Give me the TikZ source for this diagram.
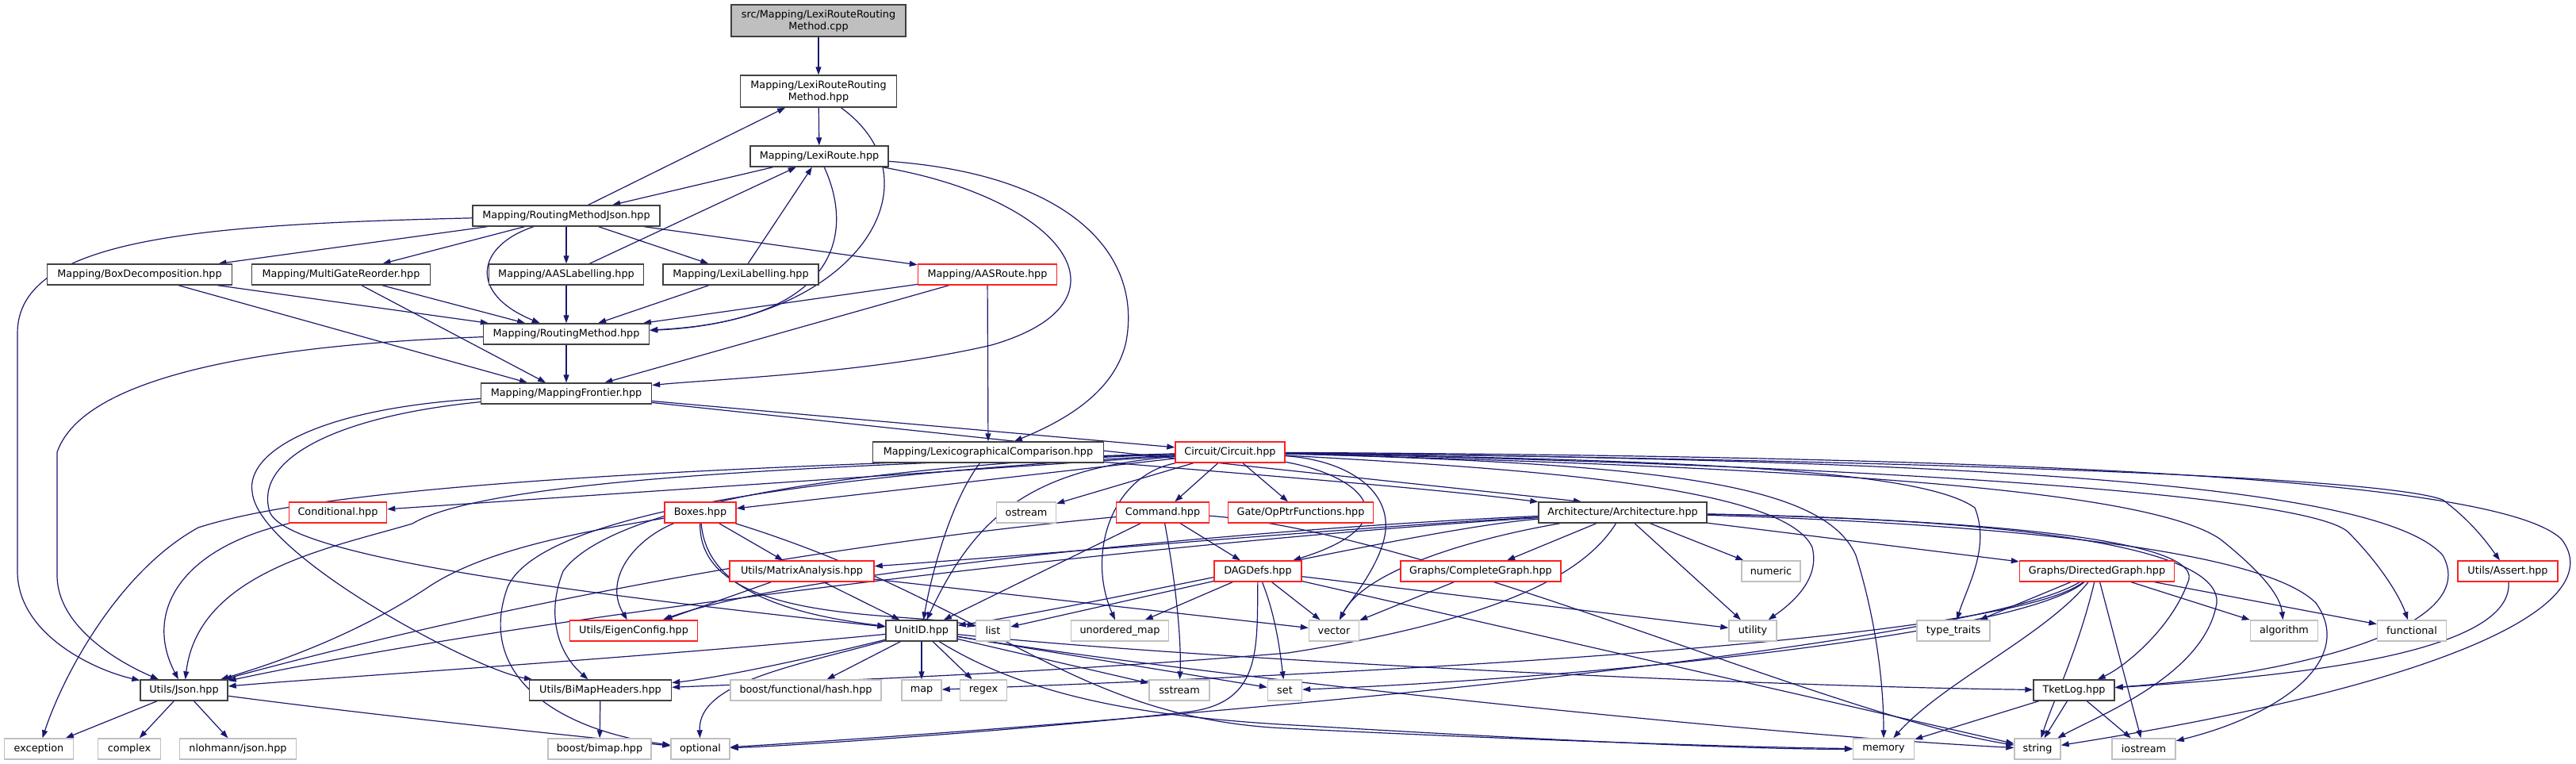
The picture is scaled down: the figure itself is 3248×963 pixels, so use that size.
\documentclass[tikz,border=0pt]{standalone}
\usepackage{fontspec}
\setmainfont{DejaVu Sans}
\usetikzlibrary{arrows.meta}
\definecolor{eb}{HTML}{191970}
\definecolor{nb}{HTML}{404040}
\definecolor{nr}{HTML}{FF2020}
\definecolor{ng}{HTML}{C0C0C0}
\definecolor{rootfill}{HTML}{BFBFBF}
\pgfdeclarelayer{bg}
\pgfsetlayers{bg,main}
\tikzset{
  nd/.style={draw=nb, fill=white, line width=1.4pt, inner sep=0pt, minimum height=26pt,
    font=\fontsize{12.8pt}{15pt}\selectfont, align=center},
  rd/.style={nd, draw=nr},
  gr/.style={nd, draw=ng},
  e/.style={draw=eb, line width=1.2pt, -{Triangle[length=10pt,width=7pt]}},
}
\begin{document}
\begin{tikzpicture}[x=1pt,y=-1pt]
\useasboundingbox (0,0) rectangle (3248,963);
% ---------- nodes ----------
\node[nd, fill=rootfill, minimum width=220pt, minimum height=40pt] (cpp) at (1032,26) {src/Mapping/LexiRouteRouting\\Method.cpp};
\node[nd, minimum width=197pt, minimum height=40pt] (lrrm) at (1032,115) {Mapping/LexiRouteRouting\\Method.hpp};
\node[nd, minimum width=174pt] (lexi) at (1033,197) {Mapping/LexiRoute.hpp};
\node[nd, minimum width=236pt] (rmj) at (714,272) {Mapping/RoutingMethodJson.hpp};
\node[nd, minimum width=233pt] (boxd) at (176,346) {Mapping/BoxDecomposition.hpp};
\node[nd, minimum width=225pt] (mgr) at (430,346) {Mapping/MultiGateReorder.hpp};
\node[nd, minimum width=195pt] (aasl) at (714,346) {Mapping/AASLabelling.hpp};
\node[nd, minimum width=196pt] (lexl) at (934,346) {Mapping/LexiLabelling.hpp};
\node[rd, minimum width=175pt] (aasr) at (1245,346) {Mapping/AASRoute.hpp};
\node[nd, minimum width=209pt] (rm) at (714,421) {Mapping/RoutingMethod.hpp};
\node[nd, minimum width=215pt] (mf) at (714,496) {Mapping/MappingFrontier.hpp};
\node[nd, minimum width=291pt] (lc) at (1246,570) {Mapping/LexicographicalComparison.hpp};
\node[rd, minimum width=138pt] (circ) at (1551,570) {Circuit/Circuit.hpp};
\node[rd, minimum width=123pt] (cond) at (426,646) {Conditional.hpp};
\node[rd, minimum width=90pt] (boxes) at (883,646) {Boxes.hpp};
\node[gr, minimum width=75pt] (ostream) at (1294,646) {ostream};
\node[rd, minimum width=117pt] (cmd) at (1466,646) {Command.hpp};
\node[rd, minimum width=183pt] (gate) at (1640,646) {Gate/OpPtrFunctions.hpp};
\node[nd, minimum width=212pt] (arch) at (2046,646) {Architecture/Architecture.hpp};
\node[rd, minimum width=182pt] (ma) at (1011,720) {Utils/MatrixAnalysis.hpp};
\node[rd, minimum width=110pt] (dag) at (1586,720) {DAGDefs.hpp};
\node[rd, minimum width=202pt] (cg) at (1867,720) {Graphs/CompleteGraph.hpp};
\node[gr, minimum width=74pt] (numeric) at (2233,720) {numeric};
\node[rd, minimum width=195pt] (dg) at (2644,720) {Graphs/DirectedGraph.hpp};
\node[rd, minimum width=126pt] (assert) at (3162,720) {Utils/Assert.hpp};
\node[rd, minimum width=161pt] (eigen) at (799,795) {Utils/EigenConfig.hpp};
\node[nd, minimum width=90pt] (unitid) at (1162,795) {UnitID.hpp};
\node[gr, minimum width=43pt] (list) at (1252,795) {list};
\node[gr, minimum width=123pt] (umap) at (1412,795) {unordered\_map};
\node[gr, minimum width=63pt] (vector) at (1682,795) {vector};
\node[gr, minimum width=60pt] (utility) at (2210,795) {utility};
\node[gr, minimum width=92pt] (tt) at (2463,795) {type\_traits};
\node[gr, minimum width=85pt] (algorithm) at (2880,795) {algorithm};
\node[gr, minimum width=87pt] (functional) at (3041,795) {functional};
\node[nd, minimum width=110pt] (json) at (232,870) {Utils/Json.hpp};
\node[nd, minimum width=179pt] (bimaph) at (757,870) {Utils/BiMapHeaders.hpp};
\node[gr, minimum width=190pt] (bfh) at (1016,870) {boost/functional/hash.hpp};
\node[gr, minimum width=50pt] (map) at (1162,870) {map};
\node[gr, minimum width=59pt] (regex) at (1240,870) {regex};
\node[gr, minimum width=76pt] (sstream) at (1487,870) {sstream};
\node[gr, minimum width=43pt] (set) at (1620,870) {set};
\node[nd, minimum width=102pt] (tketlog) at (2615,870) {TketLog.hpp};
\node[gr, minimum width=87pt] (exception) at (49,944) {exception};
\node[gr, minimum width=79pt] (complex) at (163,944) {complex};
\node[gr, minimum width=147pt] (nlohmann) at (300,944) {nlohmann/json.hpp};
\node[gr, minimum width=130pt] (bimap) at (756,944) {boost/bimap.hpp};
\node[gr, minimum width=74pt] (optional) at (883,944) {optional};
\node[gr, minimum width=77pt] (memory) at (2375,944) {memory};
\node[gr, minimum width=58pt] (string) at (2569,944) {string};
\node[gr, minimum width=80pt] (iostream) at (2703,944) {iostream};
% ---------- edges ----------
\begin{pgfonlayer}{bg}
\draw[e] (cpp) -- (lrrm);
\draw[e] (lrrm) -- (lexi);
\draw[e] (lrrm) .. controls (1190,230) and (1080,405) .. (rm);
\draw[e] (rmj) -- (lrrm);
\draw[e] (lexi) -- (rmj);
\draw[e] (lexi) .. controls (1080,300) and (1050,405) .. (rm);
\draw[e] (lexi) .. controls (1350,220) and (1440,320) .. (1420,430) .. controls (1405,500) and (1330,535) .. (lc);
\draw[e] (lexi) .. controls (1340,250) and (1440,380) .. (1250,435) .. controls (1100,470) and (900,478) .. (mf);
\draw[e] (rmj) -- (boxd);
\draw[e] (rmj) -- (mgr);
\draw[e] (rmj) .. controls (600,310) and (590,370) .. (rm);
\draw[e] (rmj) -- (aasl);
\draw[e] (rmj) -- (lexl);
\draw[e] (rmj) -- (aasr);
\draw[e] (rmj) .. controls (250,283) and (22,300) .. (22,420) -- (22,720) .. controls (22,800) and (120,845) .. (json);
\draw[e] (boxd) -- (rm);
\draw[e] (boxd) -- (mf);
\draw[e] (mgr) -- (rm);
\draw[e] (mgr) -- (mf);
\draw[e] (aasl) -- (rm);
\draw[e] (aasl) -- (lexi);
\draw[e] (lexl) -- (rm);
\draw[e] (lexl) -- (lexi);
\draw[e] (aasr) -- (rm);
\draw[e] (aasr) -- (mf);
\draw[e] (aasr) -- (lc);
\draw[e] (rm) -- (mf);
\draw[e] (rm) .. controls (400,432) and (110,460) .. (72,570) -- (72,725) .. controls (72,790) and (150,835) .. (json);
\draw[e] (mf) -- (circ);
\draw[e] (mf) -- ([xshift=-52pt]arch.north);
\draw[e] (mf) .. controls (400,515) and (310,570) .. (318,620) .. controls (325,700) and (600,845) .. (bimaph);
\draw[e] (mf) .. controls (420,525) and (320,580) .. (340,645) .. controls (360,700) and (700,745) .. (unitid);
\draw[e] (lc) .. controls (1200,630) and (1175,720) .. (unitid);
\draw[e] (lc) .. controls (1600,600) and (1800,615) .. (arch);
% circuit
\draw[e] (circ) -- (cond);
\draw[e] (circ) -- (boxes);
\draw[e] (circ) -- (ostream);
\draw[e] (circ) -- (cmd);
\draw[e] (circ) -- (gate);
\draw[e] (circ) .. controls (1720,600) and (1780,660) .. (dag);
\draw[e] (circ) .. controls (1400,600) and (1370,700) .. (umap);
\draw[e] (circ) .. controls (1300,590) and (1230,650) .. (unitid);
\draw[e] (circ) .. controls (1100,585) and (620,600) .. (520,660) .. controls (420,690) and (250,720) .. (json);
\draw[e] (circ) .. controls (900,588) and (420,610) .. (250,665) .. controls (150,720) and (80,850) .. (exception);
\draw[e] (circ) .. controls (1000,590) and (760,650) .. (710,720) .. controls (690,770) and (700,820) .. (bimaph);
\draw[e] (circ) .. controls (1000,600) and (680,650) .. (640,740) .. controls (600,850) and (700,920) .. (optional);
\draw[e] (circ) .. controls (1700,580) and (1760,620) .. (1745,680) .. controls (1735,720) and (1700,760) .. (vector);
\draw[e] (circ) .. controls (1900,590) and (2250,610) .. (2285,690) .. controls (2295,730) and (2260,760) .. (utility);
\draw[e] (circ) .. controls (2100,585) and (2300,610) .. (2340,700) .. controls (2365,780) and (2375,860) .. (memory);
\draw[e] (circ) .. controls (2100,580) and (2420,590) .. (2490,640) .. controls (2510,690) and (2480,740) .. (tt);
\draw[e] (circ) .. controls (2200,588) and (2700,610) .. (2800,680) .. controls (2850,720) and (2875,750) .. (algorithm);
\draw[e] (circ) .. controls (2300,585) and (2900,620) .. (2960,670) .. controls (3000,710) and (3025,750) .. (functional);
\draw[e] (circ) .. controls (2400,580) and (3000,600) .. (3080,630) .. controls (3120,660) and (3140,690) .. (assert);
\draw[e] (circ) .. controls (2500,575) and (3150,600) .. (3230,680) .. controls (3290,760) and (3100,860) .. (string);
\draw[e] (circ) .. controls (2500,580) and (3000,610) .. (3080,700) .. controls (3130,790) and (2900,850) .. (tketlog);
% boxes
\draw[e] (boxes) -- (ma);
\draw[e] (boxes) .. controls (800,680) and (760,730) .. (eigen);
\draw[e] (boxes) .. controls (700,675) and (600,700) .. (540,740) .. controls (450,800) and (350,835) .. (json);
\draw[e] (boxes) .. controls (890,730) and (960,770) .. (unitid);
\draw[e] (boxes) .. controls (880,790) and (1150,770) .. (list);
\draw[e] (boxes) .. controls (1250,760) and (1350,905) .. (1620,918) .. controls (1900,932) and (2200,942) .. (memory);
% conditional
\draw[e] (cond) .. controls (230,690) and (180,770) .. (json);
% command
\draw[e] (cmd) .. controls (1000,690) and (600,770) .. (json);
\draw[e] (cmd) -- (unitid);
\draw[e] (cmd) -- (dag);
\draw[e] (cmd) .. controls (1480,720) and (1490,800) .. (sstream);
\draw[e] (cmd) .. controls (1800,670) and (2300,900) .. (string);
% matrix analysis
\draw[e] (ma) -- (eigen);
\draw[e] (ma) -- (unitid);
\draw[e] (ma) -- (vector);
% dagdefs
\draw[e] (dag) -- (list);
\draw[e] (dag) -- (umap);
\draw[e] (dag) -- (vector);
\draw[e] (dag) .. controls (1610,780) and (1615,830) .. (set);
\draw[e] (dag) .. controls (1585,820) and (1590,885) .. (1500,897) .. controls (1300,920) and (1000,940) .. (optional);
\draw[e] (dag) -- (utility);
\draw[e] (dag) -- (string);
% complete graph
\draw[e] (cg) -- (vector);
% architecture
\draw[e] (arch) -- (cg);
\draw[e] (arch) .. controls (1850,680) and (1720,720) .. (vector);
\draw[e] (arch) -- (numeric);
\draw[e] (arch) -- (utility);
\draw[e] (arch) -- (dg);
\draw[e] (arch) .. controls (1800,665) and (1400,760) .. (unitid);
\draw[e] (arch) .. controls (1700,665) and (1300,700) .. (ma);
\draw[e] (arch) .. controls (1600,665) and (1000,720) .. (eigen);
\draw[e] (arch) .. controls (1500,680) and (700,770) .. (json);
\draw[e] (arch) .. controls (2000,720) and (1900,780) .. (1624,823) .. controls (1300,850) and (1000,860) .. (bimaph);
\draw[e] (arch) .. controls (2500,655) and (2770,680) .. (2760,730) .. controls (2740,790) and (2680,840) .. (tketlog);
\draw[e] (arch) .. controls (2550,655) and (2800,690) .. (2795,760) .. controls (2780,850) and (2650,900) .. (string);
\draw[e] (arch) .. controls (2500,660) and (2850,690) .. (2920,760) .. controls (2970,830) and (2880,900) .. (iostream);
% directed graph
\draw[e] (dg) -- (tt);
\draw[e] (dg) -- (algorithm);
\draw[e] (dg) -- (functional);
\draw[e] (dg) -- (iostream);
\draw[e] (dg) .. controls (2580,800) and (2450,860) .. (memory);
\draw[e] (dg) .. controls (2620,820) and (2590,880) .. (string);
\draw[e] (dg) .. controls (2500,810) and (1600,900) .. (optional);
\draw[e] (dg) .. controls (2550,800) and (2000,855) .. (set);
\draw[e] (dg) .. controls (2530,810) and (1700,850) .. (map);
% assert
\draw[e] (assert) .. controls (3170,830) and (2850,855) .. (tketlog);
% unitid
\draw[e] (unitid) -- (bfh);
\draw[e] (unitid) -- (map);
\draw[e] (unitid) -- (regex);
\draw[e] (unitid) -- (sstream);
\draw[e] (unitid) -- (set);
\draw[e] (unitid) .. controls (1000,840) and (880,860) .. (optional);
\draw[e] (unitid) .. controls (800,830) and (400,855) .. (json);
\draw[e] (unitid) .. controls (1000,835) and (900,855) .. (bimaph);
\draw[e] (unitid) .. controls (1300,880) and (1450,905) .. (1650,915) .. controls (1900,930) and (2200,945) .. (memory);
\draw[e] (unitid) .. controls (1500,850) and (2200,925) .. (string);
\draw[e] (unitid) .. controls (1500,830) and (2200,865) .. (tketlog);
% tketlog
\draw[e] (tketlog) -- (string);
\draw[e] (tketlog) -- (iostream);
\draw[e] (tketlog) -- (memory);
% json
\draw[e] (json) -- (exception);
\draw[e] (json) -- (complex);
\draw[e] (json) -- (nlohmann);
\draw[e] (json) .. controls (500,905) and (700,925) .. (optional);
% bimap headers
\draw[e] (bimaph) -- (bimap);
\end{pgfonlayer}
\end{tikzpicture}
\end{document}
